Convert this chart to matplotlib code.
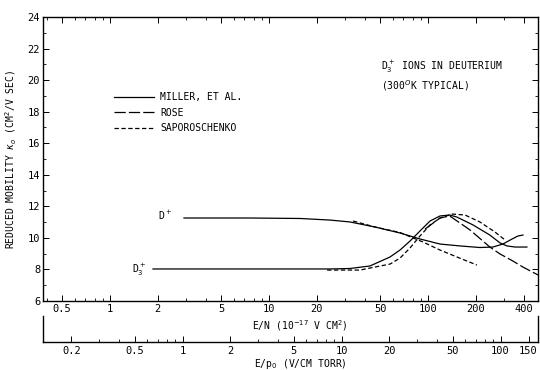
import matplotlib
matplotlib.use("Agg")
import matplotlib.pyplot as plt
from matplotlib.lines import Line2D
from matplotlib.ticker import FixedLocator, NullFormatter, LogLocator

plt.rcParams['font.family'] = ['DejaVu Sans Mono']
plt.rcParams['mathtext.fontset'] = 'dejavusans'

# ---- data (E/N in 1e-17 V cm^2, reduced mobility in cm^2/V s) ----
dplus_miller_en = [2.92, 7.6, 15.7, 24.2, 32.3, 46.4, 66.7, 89.1, 119, 159, 212, 256, 296, 338, 368, 396]
dplus_miller_k = [11.26, 11.26, 11.23, 11.13, 11.01, 10.69, 10.31, 9.93, 9.61, 9.49, 9.39, 9.42, 9.61, 9.93, 10.12, 10.18]

dplus_sapor_en = [33.8, 46.4, 66.7, 93.0, 119, 152, 203]
dplus_sapor_k = [11.07, 10.69, 10.34, 9.74, 9.23, 8.79, 8.28]

d3_miller_en = [1.864, 10, 24.2, 32.3, 43.2, 57.7, 66.7, 77.1, 89.1, 103, 119, 137, 152, 192, 245, 284, 314, 353, 396, 419]
d3_miller_k = [8.03, 8.03, 8.03, 8.06, 8.22, 8.79, 9.23, 9.80, 10.44, 11.07, 11.39, 11.45, 11.32, 10.82, 10.18, 9.68, 9.49, 9.42, 9.42, 9.42]

d3_sapor_en = [23.2, 37.4, 43.2, 57.7, 66.7, 77.1, 89.1, 103, 119, 142, 171, 212, 264, 305]
d3_sapor_k = [7.96, 7.96, 8.09, 8.34, 8.72, 9.36, 10.12, 10.82, 11.26, 11.51, 11.45, 11.01, 10.37, 9.87]

d3_rose_en = [95.8, 119, 137, 184, 245, 284, 340, 396, 492]
d3_rose_k = [10.56, 11.26, 11.39, 10.50, 9.42, 8.98, 8.55, 8.15, 7.65]

en_ticks = [0.5, 1, 2, 5, 10, 20, 50, 100, 200, 400]
en_ticklabels = ['0.5', '1', '2', '5', '10', '20', '50', '100', '200', '400']
ep_ticks = [0.2, 0.5, 1, 2, 5, 10, 20, 50, 100, 150]
ep_ticklabels = ['0.2', '0.5', '1', '2', '5', '10', '20', '50', '100', '150']
y_ticks = [6, 8, 10, 12, 14, 16, 18, 20, 22, 24]

EN_PER_EP = 2.86
xlim = (0.379, 492)

fig = plt.figure(figsize=(5.4, 3.7), dpi=100)
ax = fig.add_axes([43/540, 1-301/370, (538-43)/540, (301-17)/370])

solid = dict(color='black', lw=0.9)
rose = dict(color='black', lw=0.9, dashes=(9, 2.5))
sapor = dict(color='black', lw=0.9, dashes=(3.5, 2))

ax.plot(dplus_miller_en, dplus_miller_k, **solid)
ax.plot(dplus_sapor_en, dplus_sapor_k, **sapor)
ax.plot(d3_miller_en, d3_miller_k, **solid)
ax.plot(d3_sapor_en, d3_sapor_k, **sapor)
ax.plot(d3_rose_en, d3_rose_k, **rose)

ax.set_xscale('log')
ax.set_xlim(*xlim)
ax.set_ylim(6, 24)
ax.xaxis.set_major_locator(FixedLocator(en_ticks))
ax.set_xticklabels(en_ticklabels)
ax.xaxis.set_minor_locator(LogLocator(base=10, subs=range(1, 10)))
ax.xaxis.set_minor_formatter(NullFormatter())
ax.set_yticks(y_ticks)
ax.set_yticks(range(6, 25), minor=True)
ax.tick_params(which='both', direction='in', top=True, right=True, labelsize=7.5, pad=2)
ax.tick_params(which='major', length=4, width=0.7)
ax.tick_params(which='minor', length=2.5, width=0.6)
for s in ax.spines.values():
    s.set_linewidth(1.0)

ax.set_ylabel('REDUCED MOBILITY $\\kappa_o$ (CM$^2$/V SEC)', fontsize=7, labelpad=6)

# legend
handles = [Line2D([], [], **solid), Line2D([], [], **rose), Line2D([], [], **sapor)]
ax.legend(handles, ['MILLER, ET AL.', 'ROSE', 'SAPOROSCHENKO'], loc='upper left',
          bbox_to_anchor=(0.125, 0.765), frameon=False, fontsize=7, handlelength=4.2,
          handletextpad=0.6, labelspacing=0.55)

ax.text(50.6, 20.85, 'D$_3^+$ IONS IN DEUTERIUM', fontsize=7, va='center', ha='left')
ax.text(50.6, 19.65, '(300$^O$K TYPICAL)', fontsize=7, va='center', ha='left')
ax.text(2.45, 11.45, 'D$^+$', fontsize=7, va='center', ha='right')
ax.text(1.7, 7.95, 'D$_3^+$', fontsize=7, va='center', ha='right')

fig.text(300/540, 1-326/370, 'E/N (10$^{-17}$ V CM$^2$)', fontsize=7, ha='center', va='center')

# second axis E/p0
ax2 = fig.add_axes([43/540, 1-342/370, (538-43)/540, 26/370])
ax2.set_xscale('log')
ax2.set_xlim(xlim[0]/EN_PER_EP, xlim[1]/EN_PER_EP)
ax2.set_yticks([])
ax2.spines['top'].set_visible(False)
for s in ax2.spines.values():
    s.set_linewidth(1.0)
ax2.patch.set_alpha(0)
ax2.xaxis.set_major_locator(FixedLocator(ep_ticks))
ax2.set_xticklabels(ep_ticklabels)
ax2.xaxis.set_minor_locator(LogLocator(base=10, subs=range(1, 10)))
ax2.xaxis.set_minor_formatter(NullFormatter())
ax2.tick_params(which='both', direction='in', labelsize=7.5, pad=3)
ax2.tick_params(which='major', length=4, width=0.7)
ax2.tick_params(which='minor', length=2.5, width=0.6)
fig.text(300/540, 1-364/370, 'E/p$_0$ (V/CM TORR)', fontsize=7, ha='center', va='center')

fig.savefig('out.png', dpi=100)
